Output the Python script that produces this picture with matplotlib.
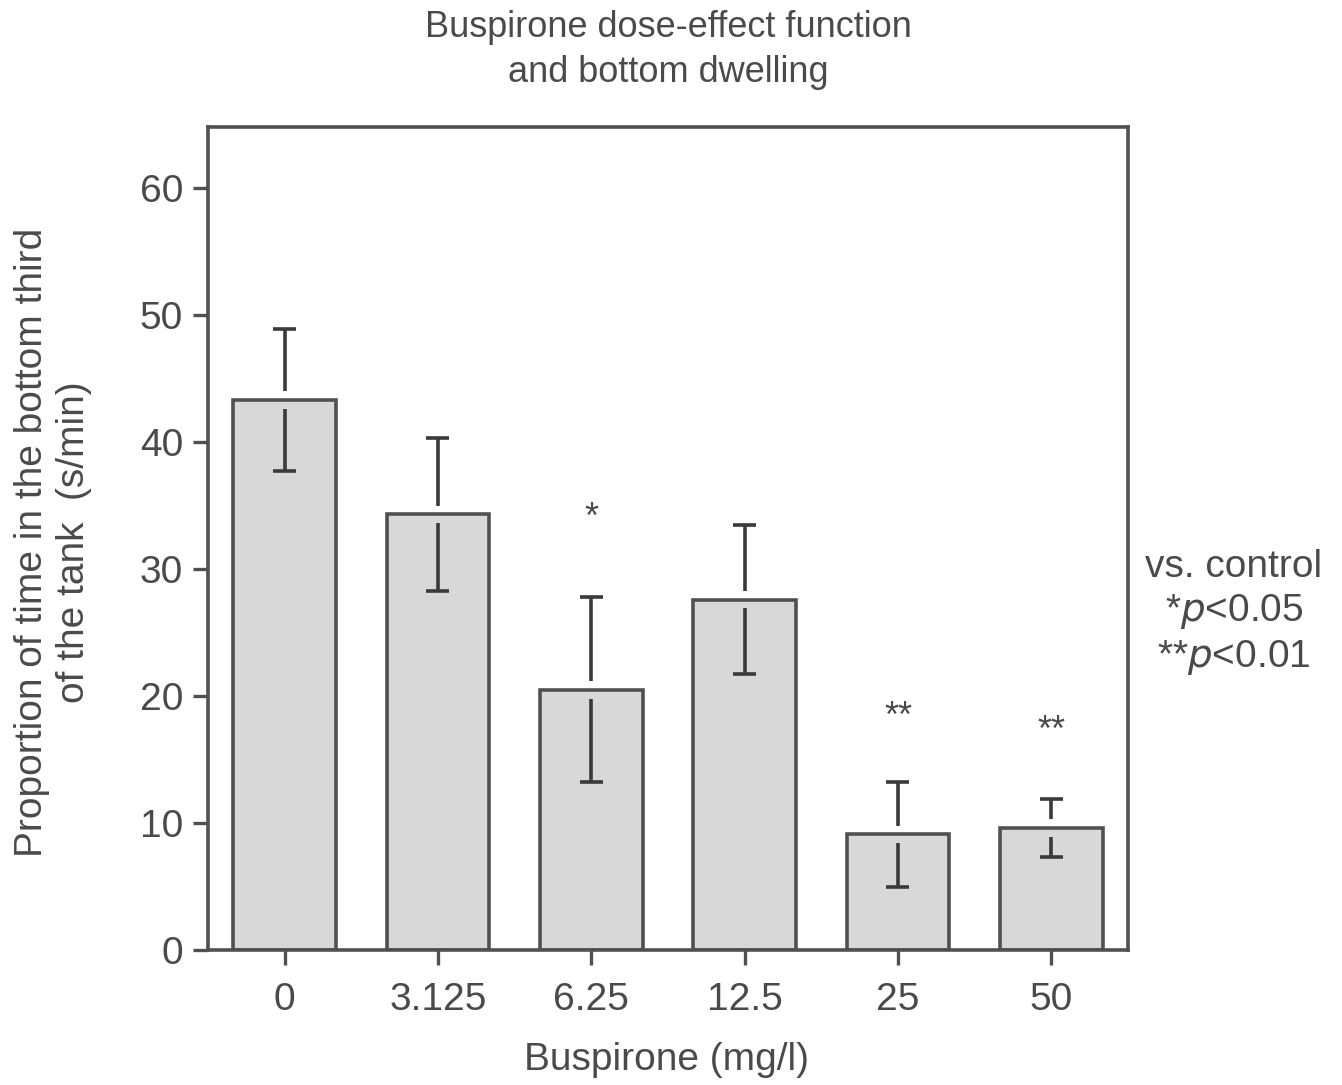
import matplotlib.pyplot as plt

plt.rcParams["font.family"] = ["Liberation Sans", "DejaVu Sans"]

# data
doses = ["0", "3.125", "6.25", "12.5", "25", "50"]
means = [43.3, 34.3, 20.5, 27.6, 9.1, 9.6]
sems = [5.6, 6.0, 7.3, 5.9, 4.1, 2.3]
stars = ["", "", "*", "", "**", "**"]
star_y = [0, 0, 34.0, 0, 18.3, 17.2]

text_col = "#4a4a4a"
line_col = "#505050"

fig = plt.figure(figsize=(13.42, 10.85), dpi=100)
ax = fig.add_axes([0.155, 0.1244, 0.6855, 0.7585])

x = list(range(len(doses)))
ax.bar(x, means, width=0.67, color="#d8d8d8", edgecolor=line_col, linewidth=2.6, zorder=2)

# error bars, drawn with a small gap where they meet the bar top
gap = 0.7
cap = 0.075
for xi, m, e in zip(x, means, sems):
    ax.vlines(xi, m + gap, m + e, color="#3a3a3a", linewidth=2.6, zorder=3)
    ax.vlines(xi, m - e, m - gap, color="#3a3a3a", linewidth=2.6, zorder=3)
    ax.hlines([m + e, m - e], xi - cap, xi + cap, color="#3a3a3a", linewidth=2.6, zorder=3)

for xi, s, sy in zip(x, stars, star_y):
    if s:
        ax.text(xi, sy, s, ha="center", va="center", fontsize=26, color=text_col)

ax.set_xlim(-0.5, 5.5)
ax.set_ylim(0, 64.8)
ax.set_xticks(x)
ax.set_xticklabels(doses)
ax.set_yticks([0, 10, 20, 30, 40, 50, 60])

for sp in ax.spines.values():
    sp.set_color(line_col)
    sp.set_linewidth(2.6)

ax.tick_params(axis="both", direction="out", length=11, width=2.4, color=line_col,
               labelsize=28, labelcolor=text_col)
ax.tick_params(axis="y", pad=7)
ax.tick_params(axis="x", pad=12)

fig.text(0.4978, 1 - 50 / 1085, "Buspirone dose-effect function\nand bottom dwelling",
         ha="center", va="center", fontsize=26, color=text_col, linespacing=1.38)
fig.text(666 / 1342, 1 - 1060 / 1085, "Buspirone (mg/l)", ha="center", va="center",
         fontsize=28, color=text_col)
fig.text(53 / 1342, 1 - 542 / 1085, "Proportion of time in the bottom third\nof the tank  (s/min)",
         ha="center", va="center", rotation=90, fontsize=28, color=text_col, linespacing=1.2)
fig.text(1234 / 1342, 1 - 613 / 1085, "vs. control\n*$p$<0.05\n**$p$<0.01",
         ha="center", va="center", fontsize=28, color=text_col, linespacing=1.24)

fig.savefig("out.png", dpi=100)
